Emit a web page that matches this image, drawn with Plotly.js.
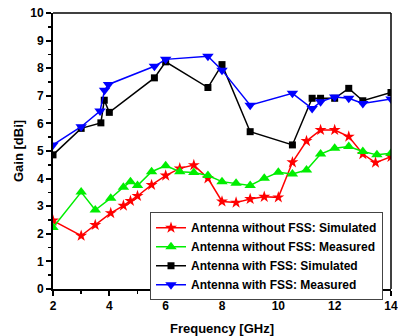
<!DOCTYPE html>
<html><head><meta charset="utf-8">
<script src="https://cdn.plot.ly/plotly-3.0.1.min.js"></script>
<style>html,body{margin:0;padding:0;background:#fff}#chart{width:398px;height:336px}</style>
</head><body><div id="chart"></div>
<script>
// Antenna without FSS: Simulated
const freqWoSim = [2, 3, 3.5, 4.05, 4.5, 4.75, 5, 5.5, 6, 6.5, 7, 7.5, 8, 8.5, 9, 9.5, 10, 10.5, 11, 11.5, 12, 12.5, 13, 13.45, 14];
const gainWoSim = [2.48, 1.93, 2.32, 2.75, 3.02, 3.19, 3.37, 3.77, 4.11, 4.37, 4.49, 4.01, 3.17, 3.13, 3.26, 3.34, 3.32, 4.59, 5.36, 5.76, 5.76, 5.52, 4.89, 4.58, 4.79];
// Antenna without FSS: Measured
const freqWoMeas = [2, 3, 3.5, 4.05, 4.5, 4.75, 5, 5.5, 6, 6.5, 7, 7.5, 8, 8.5, 9, 9.5, 10, 10.5, 11, 11.5, 12, 12.5, 13, 13.5, 14];
const gainWoMeas = [2.23, 3.51, 2.86, 3.29, 3.69, 3.89, 3.75, 4.25, 4.47, 4.25, 4.22, 4.11, 3.89, 3.83, 3.75, 4.01, 4.23, 4.17, 4.31, 4.89, 5.10, 5.16, 4.98, 4.86, 4.92];
// Antenna with FSS: Simulated
const freqWSim = [2, 3, 3.7, 3.82, 4, 5.6, 6, 7.5, 8, 9, 10.5, 11.2, 11.5, 12, 12.5, 13, 14];
const gainWSim = [4.86, 5.82, 6.02, 6.84, 6.40, 7.65, 8.23, 7.30, 8.13, 5.70, 5.22, 6.91, 6.91, 6.91, 7.27, 6.82, 7.12];
// Antenna with FSS: Measured
const freqWMeas = [2, 3, 3.67, 3.83, 3.97, 5.6, 6, 7.5, 8, 9, 10.5, 11.2, 11.5, 12, 12.5, 13, 14];
const gainWMeas = [5.22, 5.88, 6.45, 7.2, 7.41, 8.07, 8.32, 8.43, 7.93, 6.66, 7.09, 6.54, 6.78, 6.96, 6.91, 6.72, 6.88];

const names = ["Antenna without FSS: Simulated", "Antenna without FSS: Measured", "Antenna with FSS: Simulated", "Antenna with FSS: Measured"];
const xTitle = "Frequency [GHz]";
const yTitle = "Gain [dBi]";

const traces = [
  {x: freqWoSim, y: gainWoSim, name: names[0], mode: "lines+markers",
   line: {color: "#ff0000", width: 1.5}, marker: {symbol: "star", size: 9, color: "#ff0000"}},
  {x: freqWoMeas, y: gainWoMeas, name: names[1], mode: "lines+markers",
   line: {color: "#00ee00", width: 1.5}, marker: {symbol: "triangle-up", size: 10, color: "#00ee00"}},
  {x: freqWSim, y: gainWSim, name: names[2], mode: "lines+markers",
   line: {color: "#000000", width: 1.5}, marker: {symbol: "square", size: 7, color: "#000000"}},
  {x: freqWMeas, y: gainWMeas, name: names[3], mode: "lines+markers",
   line: {color: "#0000ff", width: 1.5}, marker: {symbol: "triangle-down", size: 10, color: "#0000ff"}}
];

const fam = "Liberation Sans, Arial, sans-serif";
const tickFont = {family: fam, size: 12, color: "#000", weight: "bold"};
const layout = {
  width: 398, height: 336,
  margin: {l: 53, r: 7, t: 13, b: 47},
  paper_bgcolor: "#fff", plot_bgcolor: "#fff",
  showlegend: true,
  legend: {x: 0.287, y: 0.278, xanchor: "left", yanchor: "top",
    bordercolor: "#444", borderwidth: 1, bgcolor: "#fff",
    font: {family: fam, size: 12, color: "#000", weight: "bold"},
    tracegroupgap: 0, itemwidth: 30},
  shapes: [
    {type: "line", xref: "paper", yref: "paper", x0: 0, x1: 1, y0: 1, y1: 1, line: {color: "#000", width: 1.5}},
    {type: "line", xref: "paper", yref: "paper", x0: 1, x1: 1, y0: 0, y1: 1, line: {color: "#000", width: 1.5}}
  ],
  annotations: [
    {text: yTitle, xref: "paper", yref: "paper", x: 0, y: 0.5, xanchor: "center", yanchor: "middle",
     xshift: -35, textangle: -90, showarrow: false,
     font: {family: fam, size: 13, color: "#000", weight: "bold"}}
  ],
  xaxis: {range: [2, 14], tick0: 2, dtick: 2, ticks: "outside", ticklen: 5, tickwidth: 2,
    tickcolor: "#000", showgrid: false, zeroline: false, showline: true, linewidth: 2, linecolor: "#000",
    tickfont: tickFont,
    minor: {dtick: 1, ticks: "outside", ticklen: 3, tickwidth: 1.5, tickcolor: "#000", showgrid: false},
    title: {text: xTitle, font: {family: fam, size: 13, color: "#000", weight: "bold"}, standoff: 12}},
  yaxis: {range: [0, 10], tick0: 0, dtick: 1, ticks: "outside", ticklen: 5, tickwidth: 2,
    tickcolor: "#000", showgrid: false, zeroline: false, showline: true, linewidth: 2, linecolor: "#000",
    tickfont: tickFont,
    minor: {dtick: 0.5, ticks: "outside", ticklen: 3, tickwidth: 1.5, tickcolor: "#000", showgrid: false}}
};

Plotly.newPlot("chart", traces, layout, {displayModeBar: false, staticPlot: true});
</script>
</body></html>
